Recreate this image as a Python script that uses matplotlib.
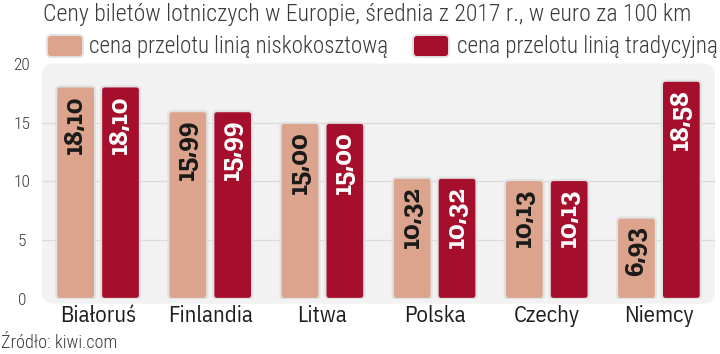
import numpy as np
import matplotlib
matplotlib.use("Agg")
import matplotlib.pyplot as plt
from matplotlib import font_manager as fm
from matplotlib.patches import FancyBboxPatch

countries = ["Białoruś", "Finlandia", "Litwa", "Polska", "Czechy", "Niemcy"]
low_cost = [18.10, 15.99, 15.00, 10.32, 10.13, 6.93]
traditional = [18.10, 15.99, 15.00, 10.32, 10.13, 18.58]
yticks = [0, 5, 10, 15, 20]

title = "Ceny biletów lotniczych w Europie, średnia z 2017 r., w euro za 100 km"
label_low = "cena przelotu linią niskokosztową"
label_trad = "cena przelotu linią tradycyjną"
source = "Źródło: kiwi.com"

c_low = "#dca48c"
c_trad = "#a50f2c"
c_bg = "#f2f2f2"
c_text = "#3a3a3a"

have = {f.name for f in fm.fontManager.ttflist}
def pick(*cands):
    for c in cands:
        if c in have:
            return c
    return "DejaVu Sans"

narrow = pick("Roboto Condensed", "Archivo Narrow", "Liberation Sans Narrow", "Roboto")
label_font = pick("IBM Plex Sans Condensed", "Roboto Condensed", "Archivo Narrow", "Roboto")
slab = pick("Roboto Slab", "Zilla Slab", "DejaVu Serif")

W, H = 720, 354
fig = plt.figure(figsize=(W / 100, H / 100), dpi=100)
renderer = fig.canvas.get_renderer()


def fit(t, target):
    # scale font so the text is as wide as in the reference
    bb = t.get_window_extent(renderer=renderer)
    t.set_fontsize(t.get_fontsize() * target / bb.width)
    return t


ax = fig.add_axes([42 / W, 55 / H, 673 / W, 235 / H])
ax.set_facecolor("none")

bg = FancyBboxPatch((0, -0.02), 1, 1.022, boxstyle="round,pad=0,rounding_size=0.018",
                    mutation_aspect=2.86, transform=ax.transAxes, facecolor=c_bg,
                    edgecolor="none", zorder=0, clip_on=False)
ax.add_patch(bg)

x = np.arange(len(countries))
w = 0.347
off = 0.2

ax.set_xlim(-0.5, 5.5)
ax.set_ylim(0, 20)

for yv in yticks[1:-1]:
    ax.axhline(yv, color="#dadada", lw=0.9, zorder=1)

bars_low = ax.bar(x - off, low_cost, w, color=c_low, zorder=2)
bars_trad = ax.bar(x + off, traditional, w, color=c_trad, zorder=2)

px_x = 673 / 6.0
px_y = 235 / 20.0
num_size = None
for bars, col, tcol in [(bars_low, c_low, "#1a1a1a"), (bars_trad, c_trad, "white")]:
    for b in bars:
        b.set_visible(False)
        bx, by, bw, bh = b.get_x(), b.get_y(), b.get_width(), b.get_height()
        r = 0.035
        p = FancyBboxPatch((bx, by), bw, bh, boxstyle=f"round,pad=0,rounding_size={r}",
                           mutation_aspect=px_x / px_y, facecolor=col,
                           edgecolor="#e2e2e2", lw=1.6, zorder=3)
        ax.add_patch(p)
        txt = f"{bh:.2f}".replace(".", ",")
        t = ax.text(bx + bw / 2, bh - 0.75, txt, rotation=90, ha="center", va="top",
                    color=tcol, fontsize=14, fontweight="bold", family=slab, zorder=4)
        if num_size is None:
            t.set_rotation(0)
            fit(t, 59)
            t.set_rotation(90)
            num_size = t.get_fontsize()
        t.set_fontsize(num_size)

for s in ax.spines.values():
    s.set_visible(False)
ax.set_yticks(yticks)
ax.set_yticklabels([str(v) for v in yticks], family=narrow, fontsize=12.5,
                   color=c_text, fontweight="light")
ax.tick_params(axis="y", length=0, pad=14.5)
for lab in ax.get_yticklabels():
    lab.set_horizontalalignment("center")

tmp = fig.text(0, 0, countries[0], family=label_font, fontsize=15)
fit(tmp, 77)
xl_size = tmp.get_fontsize()
tmp.remove()
ax.set_xticks(x)
ax.set_xticklabels(countries, family=label_font, fontsize=xl_size, color="#1f1f1f")
ax.tick_params(axis="x", length=0, pad=4)

t = fig.text(43 / W, 1 - 15 / H, title, family=narrow, fontsize=15, color=c_text,
             ha="left", va="center", fontweight="light")
fit(t, 647)

# legend
for sx, tx, tw, col, lab in [(47, 89, 301, c_low, label_low),
                             (413, 457, 261, c_trad, label_trad)]:
    sw = FancyBboxPatch((sx / W, 1 - 57 / H), 36 / W, 22 / H,
                        boxstyle="round,pad=0,rounding_size=0.006", mutation_aspect=W / H,
                        transform=fig.transFigure, facecolor=col, edgecolor="#e2e2e2",
                        lw=1.4)
    fig.patches.append(sw)
    t = fig.text(tx / W, 1 - 46 / H, lab, family=narrow, fontsize=15, color=c_text,
                 ha="left", va="center", fontweight="light")
    fit(t, tw)

t = fig.text(1 / W, 1 - 343 / H, source, family=narrow, fontsize=12, color=c_text,
             ha="left", va="center", fontweight="light")
fit(t, 116)

fig.savefig("out.png", dpi=100)
